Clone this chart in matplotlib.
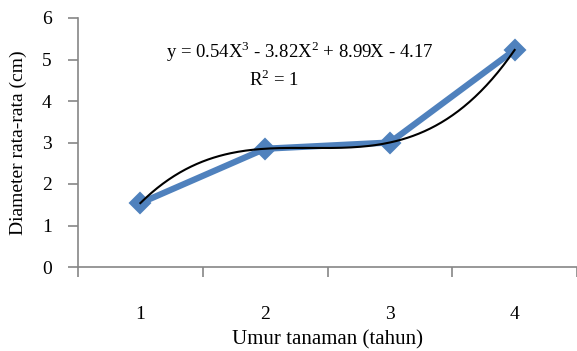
import numpy as np
import matplotlib.pyplot as plt

plt.rcParams['font.family'] = ['Liberation Serif', 'DejaVu Serif']
plt.rcParams['mathtext.fontset'] = 'custom'
plt.rcParams['mathtext.rm'] = 'Liberation Serif'

umur = [1, 2, 3, 4]
diameter = [1.54, 2.85, 3.00, 5.23]
koef = [0.54, -3.82, 8.99, -4.17]  # trendline polynomial, highest power first

fig = plt.figure(figsize=(5.77, 3.51), dpi=100)
ax = fig.add_axes([78 / 577, 1 - 267 / 351, 1 - 78 / 577, (267 - 18) / 351])

ax.plot(umur, diameter, color='#4F81BD', lw=4.5, marker='D', ms=10, mew=1.5,
        solid_joinstyle='miter', zorder=2)

xs = np.linspace(umur[0], umur[-1], 200)
ax.plot(xs, np.polyval(koef, xs), color='black', lw=1.5, zorder=3)

ax.set_xlim(0.5, 4.5)
ax.set_ylim(0, 6)
ax.set_xticks(umur)
ax.set_xticks(np.arange(0.5, 4.6, 1), minor=True)
ax.tick_params(axis='x', which='major', length=0, pad=28, labelsize=14)
ax.tick_params(axis='x', which='minor', length=7, width=1.2, color='#868686', direction='out')
ax.tick_params(axis='y', length=7, width=1.2, color='#868686', labelsize=14, pad=12)

for s in ['top', 'right']:
    ax.spines[s].set_visible(False)
for s in ['left', 'bottom']:
    ax.spines[s].set_color('#868686')
    ax.spines[s].set_linewidth(1.2)

ax.set_xlabel('Umur tanaman (tahun)', fontsize=15)
ax.xaxis.set_label_coords(0.5, (267 - 340) / 249, transform=ax.transAxes)
ax.xaxis.label.set_va('center')
ax.set_ylabel('Diameter rata-rata (cm)', fontsize=14)
ax.yaxis.set_label_coords((18 - 78) / 499, 0.5)
ax.yaxis.label.set_va('center')

ax.text(0.445, (267 - 52) / 249, r'y = 0.54X$^3$ - 3.82X$^2$ + 8.99X - 4.17', transform=ax.transAxes,
        ha='center', va='center', fontsize=13.5)
ax.text((274 - 78) / 499, (267 - 80) / 249, r'R$^2$ = 1', transform=ax.transAxes,
        ha='center', va='center', fontsize=13.5)

fig.savefig('out.png', dpi=100)
